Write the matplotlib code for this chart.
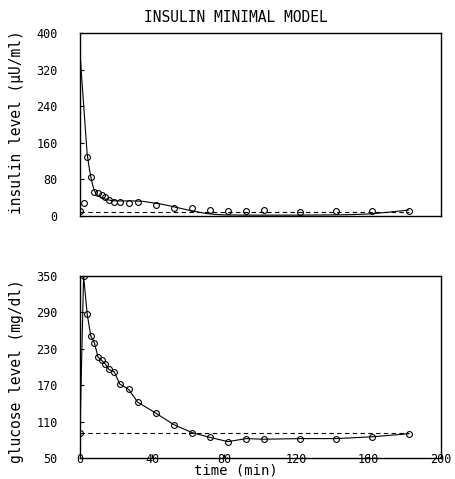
import numpy as np
import matplotlib
matplotlib.use("Agg")
import matplotlib.pyplot as plt

plt.rcParams['font.family'] = ['DejaVu Sans Mono', 'DejaVu Sans']

# sampling times (min)
t_data = [0, 2, 4, 6, 8, 10, 12, 14, 16, 19, 22, 27, 32, 42, 52, 62, 72, 82,
          92, 102, 122, 142, 162, 182]
# measured plasma insulin (uU/ml)
insulin = [11, 28, 130, 86, 52, 50, 46, 42, 36, 31, 31, 29, 31, 24, 17, 17,
           13, 11, 10, 14, 9, 10, 10, 10]
# measured plasma glucose (mg/dl)
glucose = [92, 350, 287, 251, 240, 216, 211, 205, 196, 192, 172, 163, 142,
           124, 105, 92, 84, 77, 82, 81, 82, 82, 85, 90]

# model insulin curve
t_fit = [0, 1, 2, 3, 4, 5, 6, 7, 8, 9, 10, 12, 14, 16, 18, 20, 25, 30, 35,
         40, 45, 50, 55, 60, 65, 70, 75, 80, 90, 100, 120, 140, 150, 160,
         170, 182]
i_fit = [358, 300, 245, 188, 135, 108, 86, 68, 55, 48, 45, 40, 37, 35, 33.5,
         33, 33, 33, 32, 29, 26, 22, 17.5, 13, 9, 5.5, 3.5, 2.5, 2, 2, 2, 2.5,
         3, 4.5, 8, 13]

i_basal = 9
g_basal = 92

fig = plt.figure(figsize=(4.56, 4.79), dpi=100)
ax1 = fig.add_axes([0.1754, 0.549, 0.7917, 0.382])
ax2 = fig.add_axes([0.1754, 0.0438, 0.7917, 0.380])

# insulin panel
ax1.plot(t_fit, i_fit, color='black', lw=0.8)
ax1.plot(t_data, insulin, 'o', mfc='none', mec='black', ms=4.2, mew=0.8)
ax1.plot([0, 182], [i_basal, i_basal], color='black', lw=0.8, ls=(0, (4, 3)))
ax1.set_xlim(0, 200)
ax1.set_ylim(0, 400)
ax1.set_yticks([0, 80, 160, 240, 320, 400])
ax1.set_xticks([])

# glucose panel
ax2.plot(t_data, glucose, color='black', lw=0.8)
ax2.plot(t_data, glucose, 'o', mfc='none', mec='black', ms=4.2, mew=0.8)
ax2.plot([0, 182], [g_basal, g_basal], color='black', lw=0.8, ls=(0, (4, 3)))
ax2.set_xlim(0, 200)
ax2.set_ylim(50, 350)
ax2.set_yticks([50, 110, 170, 230, 290, 350])
ax2.set_xticks([0, 40, 80, 120, 160, 200])

for ax in (ax1, ax2):
    for s in ax.spines.values():
        s.set_linewidth(1.0)
    ax.tick_params(axis='y', direction='in', length=3, width=0.8,
                   labelsize=8.5, pad=16)
    ax.tick_params(axis='x', direction='in', length=3, width=0.8,
                   labelsize=8.5, pad=-3.5)

fig.text(236 / 456, 1 - 18 / 479, 'INSULIN MINIMAL MODEL', ha='center',
         va='center', fontsize=10.5)
fig.text(17 / 456, 1 - 122 / 479, 'insulin level (μU/ml)', rotation=90,
         ha='center', va='center', fontsize=10.5)
fig.text(17 / 456, 1 - 371 / 479, 'glucose level (mg/dl)', rotation=90,
         ha='center', va='center', fontsize=10.5)
fig.text(236 / 456, 1 - 471 / 479, 'time (min)', ha='center', va='center',
         fontsize=10)

fig.savefig('out.png', dpi=100)
